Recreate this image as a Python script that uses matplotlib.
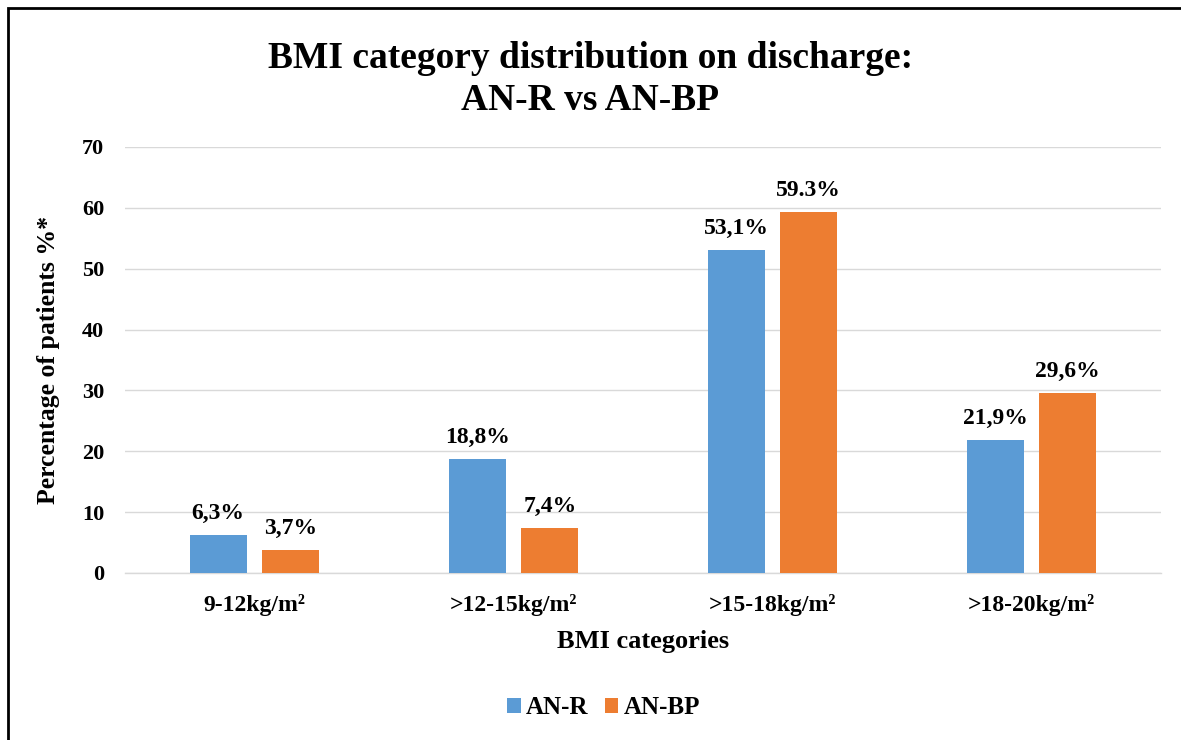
import matplotlib
matplotlib.use("Agg")
import matplotlib.pyplot as plt
from matplotlib.patches import Rectangle
import numpy as np

categories = ["9-12kg/m²", ">12-15kg/m²", ">15-18kg/m²", ">18-20kg/m²"]
an_r = [6.3, 18.8, 53.1, 21.9]
an_bp = [3.7, 7.4, 59.3, 29.6]
an_r_labels = ["6,3%", "18,8%", "53,1%", "21,9%"]
an_bp_labels = ["3,7%", "7,4%", "59.3%", "29,6%"]
yticks = [0, 10, 20, 30, 40, 50, 60, 70]

plt.rcParams['font.family'] = ['Liberation Serif', 'DejaVu Serif']
plt.rcParams['font.weight'] = 'bold'

fig = plt.figure(figsize=(11.81, 7.40), dpi=100)
ax = fig.add_axes([125/1181, 1-573/740, (1161-125)/1181, (573-147)/740])

x = np.arange(len(categories))
w = 0.22
off = 0.14
blue = "#5B9BD5"
orange = "#ED7D31"
b1 = ax.bar(x - off, an_r, w, color=blue, label="AN-R", zorder=3)
b2 = ax.bar(x + off, an_bp, w, color=orange, label="AN-BP", zorder=3)

for bars, labs in ((b1, an_r_labels), (b2, an_bp_labels)):
    for b, lab in zip(bars, labs):
        ax.annotate(lab, (b.get_x() + b.get_width()/2, b.get_height()),
                    xytext=(0, 8), textcoords="offset points",
                    ha="center", va="bottom", fontsize=17, fontweight="bold")

ax.set_xlim(-0.5, len(categories) - 0.5)
ax.set_ylim(0, 70)
ax.set_yticks(yticks)
ax.set_xticks(x)
ax.set_xticklabels(categories, fontsize=17, fontweight="bold")
ax.tick_params(axis='y', labelsize=16, length=0, pad=15)
ax.tick_params(axis='x', length=0, pad=15)
ax.grid(axis='y', color="#d9d9d9", linewidth=1, zorder=0)
ax.axhline(0, color="#d9d9d9", linewidth=1, zorder=1, clip_on=False)
for s in ax.spines.values():
    s.set_visible(False)

ax.set_xlabel("BMI categories", fontsize=19, fontweight="bold", labelpad=10)
ax.set_ylabel("Percentage of patients %*", fontsize=18.5, fontweight="bold", labelpad=16)

fig.text(0.5, 1-58/740, "BMI category distribution on discharge:", ha="center", va="center",
         fontsize=27, fontweight="bold")
fig.text(0.5, 1-100/740, "AN-R vs AN-BP", ha="center", va="center",
         fontsize=27, fontweight="bold")

fig.legend(handles=[b1, b2], labels=["AN-R", "AN-BP"], loc="center",
           bbox_to_anchor=(0.511, 1-708/740), ncol=2, frameon=False,
           prop={'size': 18, 'weight': 'bold'}, handlelength=0.55, handleheight=0.55,
           handletextpad=0.2, columnspacing=0.65)

fig.patches.append(Rectangle((8/1181, -0.02), 1.05, 1-8/740+0.02, transform=fig.transFigure,
                             fill=False, edgecolor="black", linewidth=2, zorder=10))

fig.savefig("out.png", dpi=100)
